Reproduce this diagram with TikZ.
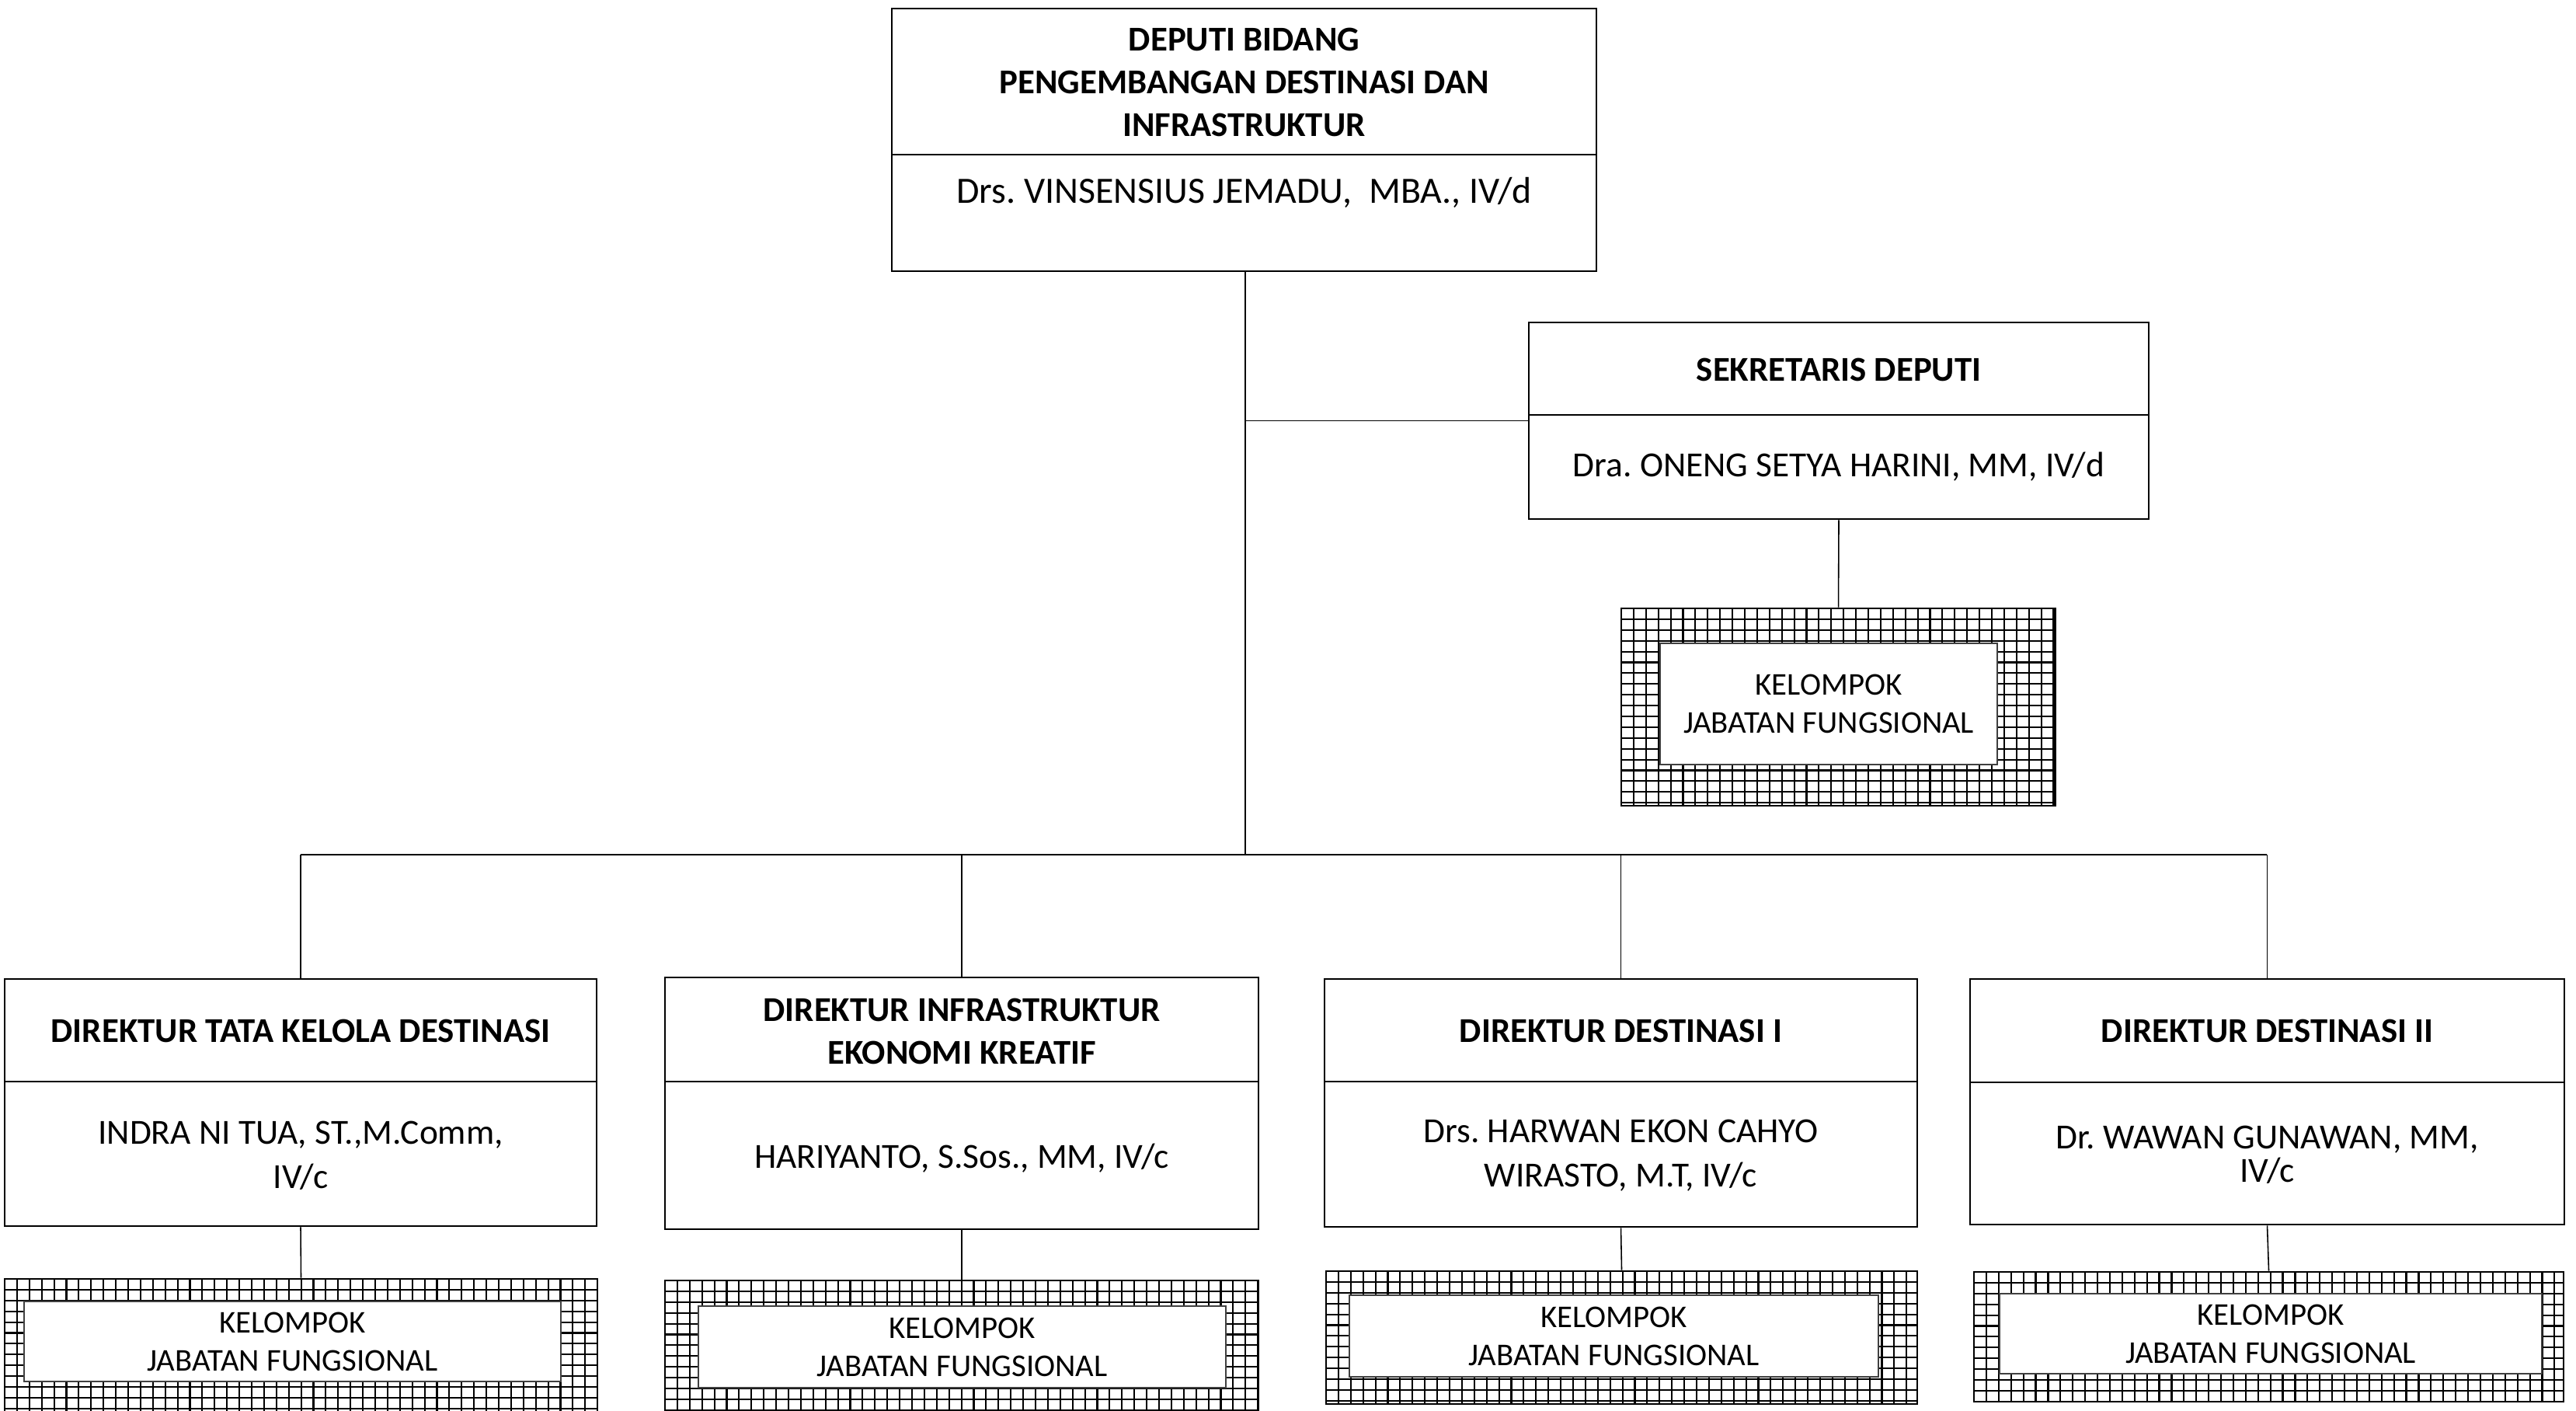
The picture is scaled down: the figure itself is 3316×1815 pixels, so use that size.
\documentclass[tikz,border=0pt]{standalone}
\usepackage{fontspec}
\setmainfont{Carlito}
\frenchspacing
\usetikzlibrary{fit}
\tikzset{
  conn/.style={draw=black, line width=0.45pt},
  gl/.style={draw=black, line width=0.6pt},
  boxframe/.style={fit={#1}, inner sep=0pt, draw=black, line width=0.8pt},
  innerbox/.style={fit={#1}, inner sep=0pt, draw=black!75, line width=0.7pt, fill=white},
  ttl/.style={font=\bfseries\fontsize{12.75}{15.6}\selectfont, align=center, inner sep=0pt},
  nm/.style={font=\fontsize{12.9}{16.2}\selectfont, align=center, inner sep=0pt},
  nmbig/.style={font=\fontsize{13.6}{16.2}\selectfont, align=center, inner sep=0pt},
  nmtight/.style={font=\fontsize{12.9}{12.2}\selectfont, align=center, inner sep=0pt},
  kel/.style={font=\fontsize{11.6}{13.9}\selectfont, align=center, inner sep=0pt},
}
\newcommand\jfgrid[4]{%
  \begin{scope}
    \clip (#1,#2) rectangle (#3,#4);
    \foreach \k in {0,...,49} {\draw[gl] ({#1+\k*15.9},#2) -- ++(0,{#4-#2});}
    \foreach \k in {0,...,19} {\draw[gl] (#1,{#2+\k*13.9}) -- ++({#3-#1},0);}
  \end{scope}}
\begin{document}
\begin{tikzpicture}[x=0.01cm,y=-0.01cm]
\useasboundingbox (0,0) rectangle (3316,1815);
\clip (0,0) rectangle (3316,1815);
\fill[white] (0,0) rectangle (3316,1815);

% ---------- top box ----------
\node[boxframe={(1148,11) (2055,349)}, fill=white] (top) {};
\draw[line width=0.8pt] (1148,199) -- (2055,199);
\node[ttl] (toptitle) at (1601.5,106) {DEPUTI BIDANG\\PENGEMBANGAN DESTINASI DAN\\INFRASTRUKTUR};
\node[nmbig] (topname) at (1601.5,248) {Drs. VINSENSIUS JEMADU,\ \ MBA., IV/d};

% ---------- sekretaris ----------
\node[boxframe={(1968,415) (2766,668)}, fill=white] (sek) {};
\draw[line width=0.8pt] (1968,534) -- (2766,534);
\node[ttl] (sektitle) at (2367,476) {SEKRETARIS DEPUTI};
\node[nm] (sekname) at (2367,601) {Dra. ONENG SETYA HARINI, MM, IV/d};

% ---------- directors ----------
\node[boxframe={(6,1260) (768,1578)}, fill=white] (d1) {};
\draw[line width=0.8pt] (6,1392) -- (768,1392);
\node[ttl] (d1t) at (387,1327) {DIREKTUR TATA KELOLA DESTINASI};
\node[nm] (d1n) at (387,1487) {INDRA NI TUA, ST.,M.Comm,\\IV/c};

\node[boxframe={(856,1258) (1620,1582)}, fill=white] (d2) {};
\draw[line width=0.8pt] (856,1392) -- (1620,1392);
\node[ttl] (d2t) at (1238,1327) {DIREKTUR INFRASTRUKTUR\\EKONOMI KREATIF};
\node[nm] (d2n) at (1238,1491) {HARIYANTO, S.Sos., MM, IV/c};

\node[boxframe={(1705,1260) (2468,1579)}, fill=white] (d3) {};
\draw[line width=0.8pt] (1705,1392) -- (2468,1392);
\node[ttl] (d3t) at (2086.5,1327) {DIREKTUR DESTINASI I};
\node[nm] (d3n) at (2086.5,1487) {Drs. HARWAN EKON CAHYO\\WIRASTO, M.T, IV/c};

\node[boxframe={(2536,1260) (3301,1576)}, fill=white] (d4) {};
\draw[line width=0.8pt] (2536,1393) -- (3301,1393);
\node[ttl] (d4t) at (2918.5,1327) {DIREKTUR DESTINASI II};
\node[nmtight] (d4n) at (2918.5,1486) {Dr. WAWAN GUNAWAN, MM,\\IV/c};

% ---------- kelompok jabatan fungsional ----------
\jfgrid{2087}{783}{2646}{1037}
\node[boxframe={(2087,783) (2646,1037)}] (jfs) {};
\node[innerbox={(2137,828) (2571,984)}] (jfsi) {};
\node[kel] (jfst) at (jfsi.center) {KELOMPOK\\JABATAN FUNGSIONAL};

\jfgrid{6}{1646}{769}{1840}
\node[boxframe={(6,1646) (769,1840)}] (jf1) {};
\node[innerbox={(31,1675) (722,1778)}] (jf1i) {};
\node[kel] (jf1t) at (jf1i.center) {KELOMPOK\\JABATAN FUNGSIONAL};

\jfgrid{856}{1648}{1620}{1840}
\node[boxframe={(856,1648) (1620,1840)}] (jf2) {};
\node[innerbox={(899,1681) (1578,1786)}] (jf2i) {};
\node[kel] (jf2t) at (jf2i.center) {KELOMPOK\\JABATAN FUNGSIONAL};

\jfgrid{1707}{1636}{2468}{1807}
\node[boxframe={(1707,1636) (2468,1807)}] (jf3) {};
\node[innerbox={(1737,1667) (2418,1772)}] (jf3i) {};
\node[kel] (jf3t) at (jf3i.center) {KELOMPOK\\JABATAN FUNGSIONAL};

\jfgrid{2541}{1637}{3300}{1804}
\node[boxframe={(2541,1637) (3300,1804)}] (jf4) {};
\node[innerbox={(2574,1665) (3272,1768)}] (jf4i) {};
\node[kel] (jf4t) at (jf4i.center) {KELOMPOK\\JABATAN FUNGSIONAL};

% ---------- connectors ----------
\coordinate (busL) at (387,1100);
\coordinate (busR) at (2918,1100);
\coordinate (busM) at (1603,1100);
\draw[conn] (top.south -| busM) -- (busM);
\draw[conn] (sek.west) -- (sek.west -| busM);
\draw[conn] (busL) -- (busR);
\draw[conn] (d1.north) -- (d1.north |- busL);
\draw[conn] (d2.north) -- (d2.north |- busL);
\draw[conn] (d3.north) -- (d3.north |- busL);
\draw[conn] (d4.north) -- (d4.north |- busL);
\draw[conn] (sek.south) -- (jfs.north);
\draw[conn] (d1.south) -- (jf1.north);
\draw[conn] (d2.south) -- (jf2.north);
\draw[conn] (d3.south) -- (jf3.north);
\draw[conn] (d4.south) -- (jf4.north);
\end{tikzpicture}
\end{document}
